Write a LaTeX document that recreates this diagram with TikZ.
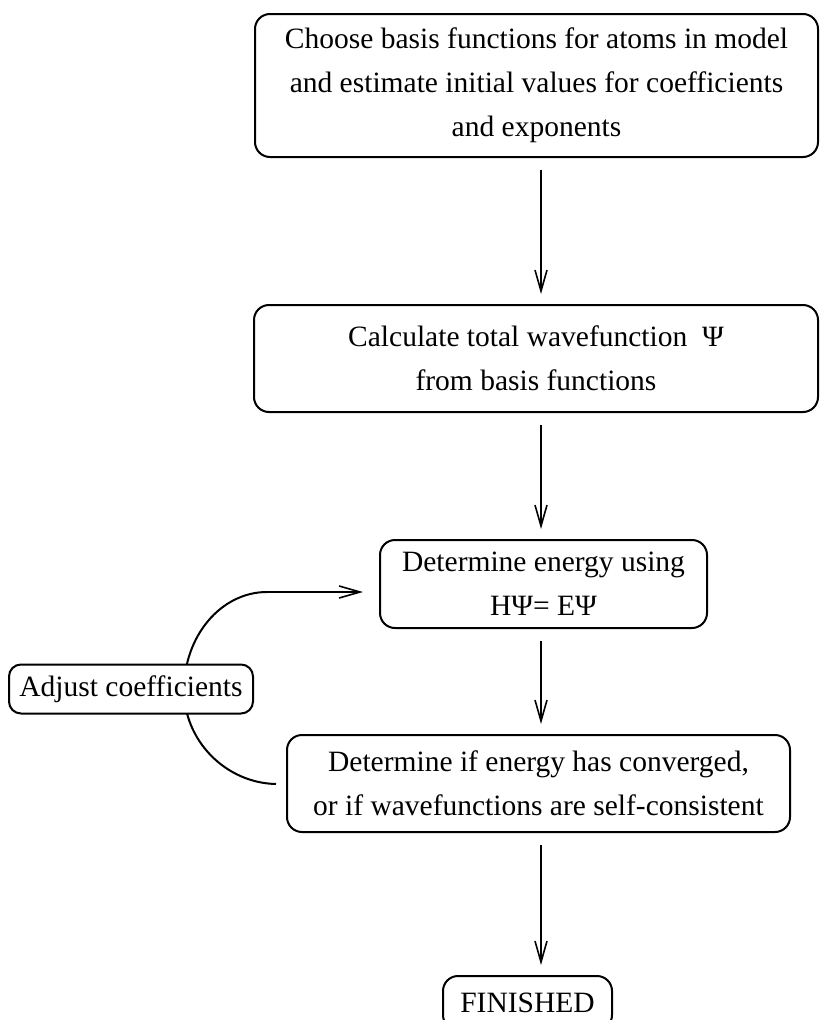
\documentclass[tikz,border=0pt]{standalone}
\usepackage{fontspec}
\setmainfont{Liberation Serif}
\usetikzlibrary{arrows.meta}
\begin{document}
\begin{tikzpicture}[x=1pt,y=-1pt,
  stepbox/.style={draw, line width=2pt, rounded corners=15pt, align=center,
    inner sep=0pt, font=\fontsize{29.5}{44}\selectfont},
  flow/.style={line width=1.6pt, -{Straight Barb[length=21pt,width=12pt,line width=1.6pt]},
    shorten <=12pt, shorten >=10pt},
  loopline/.style={line width=2pt}]
  \useasboundingbox (0,0) rectangle (820,1020);
  \clip (0,0) rectangle (820,1020);
  \fill[white] (0,0) rectangle (820,1020);

  % process boxes
  \node[stepbox, minimum width=563pt, minimum height=143pt] (choose) at (536.5,85.5)
    {Choose basis functions for atoms in model\\and estimate initial values for coefficients\\and exponents};
  \node[stepbox, minimum width=564pt, minimum height=107pt] (calc) at (536,358.5)
    {Calculate total wavefunction\enspace Ψ\\from basis functions};
  \node[stepbox, minimum width=327pt, minimum height=88pt] (energy) at (543.5,584)
    {Determine energy using\\HΨ= EΨ};
  \node[stepbox, minimum width=503pt, minimum height=97pt] (conv) at (538.5,783.5)
    {Determine if energy has converged,\\or if wavefunctions are self-consistent};
  \node[stepbox, minimum width=169pt, minimum height=54pt] (done) at (527.5,1003)
    {FINISHED};

  % main column of arrows
  \coordinate (ax) at (541,0);
  \draw[flow] (choose.south -| ax) -- (calc.north -| ax);
  \draw[flow] (calc.south -| ax) -- (energy.north -| ax);
  \draw[flow] (energy.south -| ax) -- (conv.north -| ax);
  \draw[flow] (conv.south -| ax) -- (done.north -| ax);

  % feedback loop
  \coordinate (loopstart) at ([xshift=-10pt,yshift=-0.5pt]conv.west);
  \coordinate (loopleft) at (184,690);
  \coordinate (looptop) at (267,592);
  \coordinate (looptip) at (363,592);
  \draw[loopline] (loopstart) .. controls (226,783) and (184,741) .. (loopleft)
    .. controls (184,636) and (221,592) .. (looptop);
  \draw[line width=1.6pt, -{Straight Barb[length=21pt,width=12pt,line width=1.6pt]}]
    (looptop) -- (looptip);
  \node[stepbox, fill=white, rounded corners=12pt, minimum width=244pt, minimum height=49pt]
    (adjust) at (131,689) {Adjust coefficients};
\end{tikzpicture}
\end{document}
